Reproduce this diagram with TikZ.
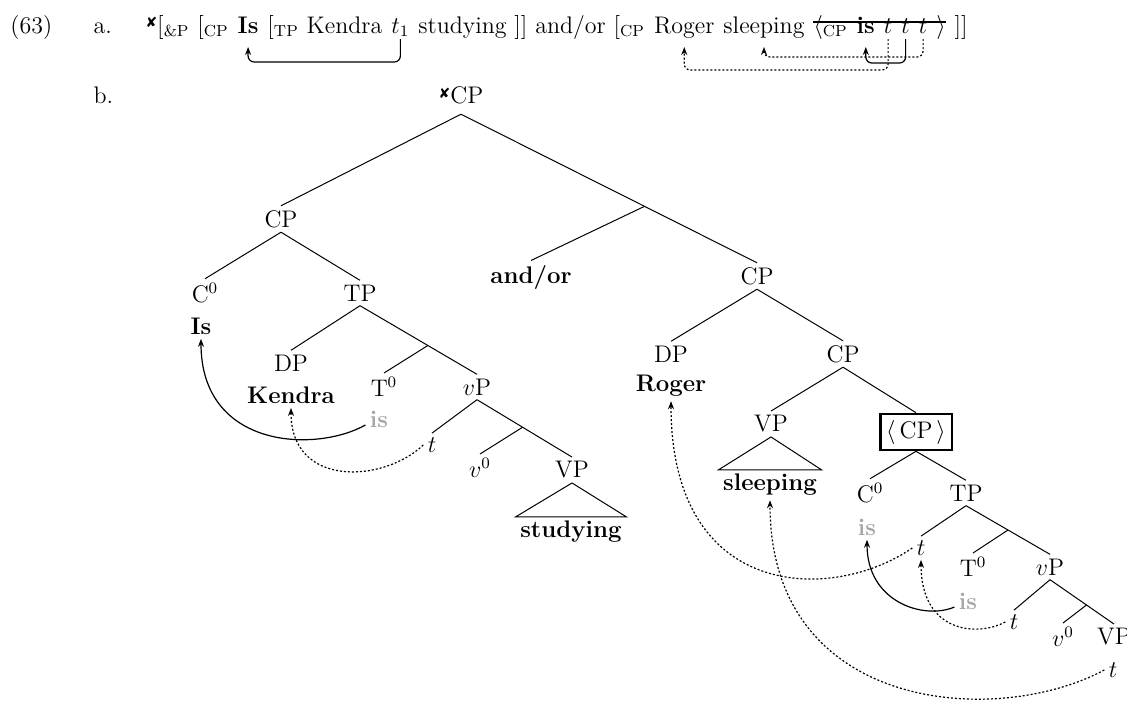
\documentclass[tikz,border=0pt]{standalone}
\usepackage{fontspec}
\usetikzlibrary{arrows.meta,calc,positioning}
\newfontfamily\dingfont{DejaVu Sans}
\newcommand\badmark{\raisebox{0.5ex}{\dingfont\fontsize{7}{7}\selectfont ✘}}
\definecolor{traceg}{gray}{0.65}
\tikzset{
  lbl/.style={inner sep=2pt},
  wrd/.style={anchor=base west, inner sep=0pt},
  nxt/.style={anchor=base west, inner sep=0pt, xshift=4pt},
  mvs/.style={-{Stealth[length=4pt,width=3pt]}, line width=0.6pt, rounded corners=3pt},
  mvd/.style={mvs, dash pattern=on 1pt off 1pt},
  trc/.style={lbl, text=traceg, font=\fontsize{12}{14}\selectfont\bfseries}
}
\begin{document}
\begin{tikzpicture}[x=0.5pt,y=-0.5pt,font=\fontsize{12}{14}\selectfont,line width=0.5pt]
        \useasboundingbox (0,0) rectangle (1127,702);
        \node (n63) [wrd] at (10,33) {(63)};
        \node (na) [wrd] at (93,33) {a.};
        \node (nb) [wrd] at (93,103) {b.};

        \node (la0) [wrd] at (145,33) {\badmark[\textsubscript{\&P} [\textsubscript{CP}};
        \node (lais) [nxt] at (la0.base east) {\textbf{Is}};
        \node (la1) [nxt] at (lais.base east) {[\textsubscript{TP} Kendra};
        \node (lat1) [nxt] at (la1.base east) {$t_1$};
        \node (la2) [nxt] at (lat1.base east) {studying ]] and/or [\textsubscript{CP}};
        \node (laroger) [nxt] at (la2.base east) {Roger};
        \node (lasleep) [nxt] at (laroger.base east) {sleeping};
        \node (laopen) [nxt] at (lasleep.base east) {$\langle$\textsubscript{CP}};
        \node (lais2) [nxt] at (laopen.base east) {\textbf{is}};
        \node (lata) [nxt] at (lais2.base east) {$t$};
        \node (latb) [nxt] at (lata.base east) {$t$};
        \node (latc) [nxt] at (latb.base east) {$t$};
        \node (laclose) [nxt] at (latc.base east) {$\rangle$};
        \node (laend) [nxt] at (laclose.base east) {]]};
        \draw[line width=0.8pt] ([yshift=5.5pt]laopen.base west) -- ([yshift=5.5pt]laclose.base east);

        \draw[mvs] ([yshift=-3pt]lat1.base) -- ([yshift=-14.5pt]lat1.base) -| ([yshift=-7pt]lais.base);
        \draw[mvd] ([yshift=-3pt]lata.base) -- ([yshift=-18.5pt]lata.base) -| ([yshift=-7pt]laroger.base);
        \draw[mvd] ([yshift=-3pt]latc.base) -- ([yshift=-12pt]latc.base) -| ([yshift=-7pt]lasleep.base);
        \draw[mvs] ([yshift=-3pt]latb.base) -- ([yshift=-15pt]latb.base) -| ([yshift=-7pt]lais2.base);

        \node (cp0) [lbl, inner sep=5pt] at (461,95) {\badmark CP};
        \node (cpa) [lbl] at (281,219) {CP};
        \node (andor) [lbl] at (531,277) {\textbf{and/or}};
        \node (cpb) [lbl] at (757,276) {CP};

        \node (c0a) [lbl] at (205,293) {C$^0$};
        \node (isa) [lbl] at (201,326) {\textbf{Is}};
        \node (tpa) [lbl] at (360,293) {TP};
        \node (dpa) [lbl] at (291,363) {DP};
        \node (kendra) [lbl] at (291,395) {\textbf{Kendra}};
        \node (t0a) [lbl] at (384,387) {T$^0$};
        \node (vpa) [lbl] at (477,387) {$v$P};
        \node (isga) [trc] at (379,419) {is};
        \node (ta) [lbl] at (432,445) {$t$};
        \node (v0a) [lbl] at (480,468) {$v^0$};
        \node (vpb) [lbl] at (572,470) {VP};
        \node (studying) [lbl] at (571,532) {\textbf{studying}};

        \node (dpb) [lbl] at (671,354) {DP};
        \node (roger) [lbl] at (671,386) {\textbf{Roger}};
        \node (cpc) [lbl] at (843,354) {CP};
        \node (vpc) [lbl] at (771,424) {VP};
        \node (sleeping) [lbl] at (770,485) {\textbf{sleeping}};
        \node (boxcp) [draw, line width=1.3pt, inner sep=3pt] at (916,432) {$\langle$\,CP\,$\rangle$};
        \node (c0b) [lbl] at (870,493) {C$^0$};
        \node (isgb) [trc] at (867,527) {is};
        \node (tpb) [lbl] at (966,493) {TP};
        \node (tb) [lbl] at (921,548) {$t$};
        \node (t0b) [lbl] at (973,567) {T$^0$};
        \node (vpd) [lbl] at (1050,567) {$v$P};
        \node (isgc) [trc] at (968,601) {is};
        \node (tc) [lbl] at (1014,622) {$t$};
        \node (v0b) [lbl] at (1063,637) {$v^0$};
        \node (vpe) [lbl] at (1114,637) {VP};
        \node (td) [lbl] at (1113,670) {$t$};

        \coordinate (bar0) at ($(cp0.south)!0.62!(cpb.north)$);
        \coordinate (bar1) at ($(tpa.south)!0.58!(vpa.north)$);
        \coordinate (bar2) at ($(vpa.south)!0.48!(vpb.north)$);
        \coordinate (bar3) at ($(tpb.south)!0.5!(vpd.north)$);
        \coordinate (bar4) at ($(vpd.south)!0.57!(vpe.north)$);

        \draw (cp0.south) -- (cpa.north);
        \draw (cp0.south) -- (cpb.north);
        \draw (bar0) -- (andor.north);
        \draw (cpa.south) -- (c0a.north);
        \draw (cpa.south) -- (tpa.north);
        \draw (tpa.south) -- (dpa.north);
        \draw (tpa.south) -- (vpa.north);
        \draw (bar1) -- (t0a.north);
        \draw (vpa.south) -- (ta.north);
        \draw (vpa.south) -- (vpb.north);
        \draw (bar2) -- (v0a.north);
        \draw (vpb.south) -- (studying.north west) -- (studying.north east) -- cycle;

        \draw (cpb.south) -- (dpb.north);
        \draw (cpb.south) -- (cpc.north);
        \draw (cpc.south) -- (vpc.north);
        \draw (cpc.south) -- (boxcp.north);
        \draw (vpc.south) -- (sleeping.north west) -- (sleeping.north east) -- cycle;
        \draw (boxcp.south) -- (c0b.north);
        \draw (boxcp.south) -- (tpb.north);
        \draw (tpb.south) -- (tb.north);
        \draw (tpb.south) -- (vpd.north);
        \draw (bar3) -- (t0b.north);
        \draw (vpd.south) -- (tc.north);
        \draw (vpd.south) -- (vpe.north);
        \draw (bar4) -- (v0b.north);

        \draw[mvs] ([yshift=-3pt]isga.west) .. controls +(-50,28) and +(0,110) .. (isa.south);
        \draw[mvd] (ta.west) .. controls +(-40,38) and +(0,80) .. (kendra.south);
        \draw[mvs] ([yshift=-3pt]isgc.west) .. controls +(-30,13) and +(0,63) .. (isgb.south);
        \draw[mvd] (tc.west) .. controls +(-28,15) and +(0,73) .. (tb.south);
        \draw[mvd] (tb.west) .. controls +(-80,55) and +(0,200) .. (roger.south);
        \draw[mvd] (td.west) .. controls +(-108,58) and +(0,212) .. (sleeping.south);
\end{tikzpicture}
\end{document}
